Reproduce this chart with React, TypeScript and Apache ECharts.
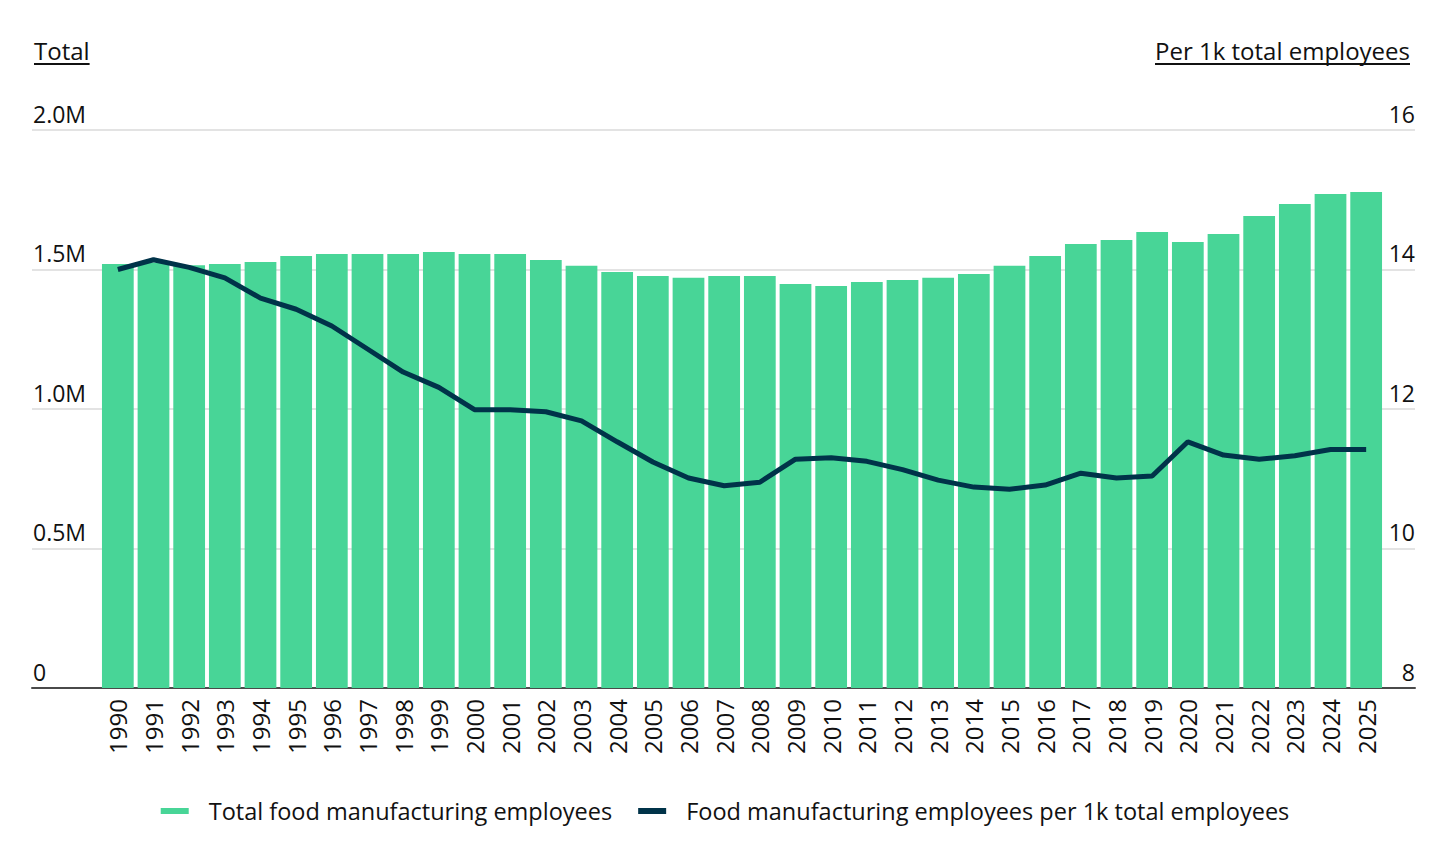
import React, { useEffect, useRef } from "react";
import * as echarts from "echarts";

const years = [
  "1990","1991","1992","1993","1994","1995","1996","1997","1998","1999",
  "2000","2001","2002","2003","2004","2005","2006","2007","2008","2009",
  "2010","2011","2012","2013","2014","2015","2016","2017","2018","2019",
  "2020","2021","2022","2023","2024","2025",
];

const totalEmployees = [
  1520000, 1525000, 1515000, 1520000, 1527000, 1548000, 1556000, 1556000, 1556000, 1563000,
  1556000, 1556000, 1534000, 1513000, 1491000, 1477000, 1470000, 1477000, 1477000, 1448000,
  1441000, 1455000, 1462000, 1470000, 1484000, 1513000, 1548000, 1591000, 1606000, 1634000,
  1599000, 1627000, 1692000, 1735000, 1771000, 1778000,
];

const perThousand = [
  14.0, 14.14, 14.03, 13.88, 13.59, 13.43, 13.19, 12.86, 12.53, 12.31,
  11.99, 11.99, 11.96, 11.83, 11.53, 11.24, 11.01, 10.9, 10.95, 11.28,
  11.3, 11.25, 11.13, 10.98, 10.88, 10.85, 10.91, 11.08, 11.01, 11.04,
  11.53, 11.34, 11.28, 11.33, 11.42, 11.42,
];

const leftTitle = "Total";
const rightTitle = "Per 1k total employees";
const barName = "Total food manufacturing employees";
const lineName = "Food manufacturing employees per 1k total employees";

const FONT = "'Open Sans', 'Noto Sans', sans-serif";
const GREEN = "#48D597";
const NAVY = "#003349";
const TEXT = "#111";

function measure(text: string, size: number): number {
  const c = document.createElement("canvas");
  const ctx = c.getContext("2d");
  if (!ctx) return text.length * size * 0.5;
  ctx.font = `${size}px ${FONT}`;
  return ctx.measureText(text).width;
}

function fmtTotal(v: number): string {
  if (v === 0) return "0";
  return (v / 1000000).toFixed(1) + "M";
}

export default function App() {
  const ref = useRef<HTMLDivElement>(null);

  useEffect(() => {
    if (!ref.current) return;
    const chart = echarts.init(ref.current, undefined, { renderer: "svg" });
    const titleSize = 24;
    const wLeft = measure(leftTitle, titleSize);
    const wRight = measure(rightTitle, titleSize);
    const leftX = 34;
    const rightX = 1410;
    const underlineY = 64;

    chart.setOption({
      animation: false,
      textStyle: { fontFamily: FONT },
      grid: [
        { left: 32, right: 35, top: 130, bottom: 162 },
        { left: 100, right: 66, top: 130, bottom: 162 },
      ],
      xAxis: [
        {
          type: "value",
          gridIndex: 0,
          min: 0,
          max: 1,
          axisLine: { show: true, onZero: false, lineStyle: { color: "#4a4a4a", width: 2 } },
          axisTick: { show: false },
          axisLabel: { show: false },
          splitLine: { show: false },
        },
        {
          type: "category",
          gridIndex: 1,
          data: years,
          axisLine: { show: false },
          axisTick: { show: false },
          axisLabel: {
            rotate: 90,
            fontSize: 24,
            color: TEXT,
            margin: 11,
            fontFamily: FONT,
            interval: 0,
          },
        },
      ],
      yAxis: [
        {
          type: "value",
          gridIndex: 0,
          position: "left",
          min: 0,
          max: 2000000,
          interval: 500000,
          axisLine: { show: false },
          axisTick: { show: false },
          splitLine: { show: true, lineStyle: { color: "#e3e3e3", width: 2 } },
          axisLabel: {
            inside: true,
            align: "left",
            verticalAlign: "bottom",
            margin: 1,
            padding: [0, 0, 5, 0],
            fontSize: 23,
            color: TEXT,
            fontFamily: FONT,
            formatter: (v: number) => fmtTotal(v),
          },
        },
        {
          type: "value",
          gridIndex: 0,
          position: "right",
          min: 8,
          max: 16,
          interval: 2,
          axisLine: { show: false },
          axisTick: { show: false },
          splitLine: { show: false },
          axisLabel: {
            inside: true,
            align: "right",
            verticalAlign: "bottom",
            margin: 0,
            padding: [0, 0, 5, 0],
            fontSize: 23,
            color: TEXT,
            fontFamily: FONT,
          },
        },
        {
          type: "value",
          gridIndex: 1,
          min: 0,
          max: 2000000,
          interval: 500000,
          show: false,
          splitLine: { show: false },
        },
        {
          type: "value",
          gridIndex: 1,
          min: 8,
          max: 16,
          interval: 2,
          show: false,
          splitLine: { show: false },
        },
      ],
      legend: {
        bottom: 22,
        left: "center",
        icon: "rect",
        itemWidth: 28,
        itemHeight: 6,
        itemGap: 26,
        textStyle: { fontSize: 23.5, color: TEXT, fontFamily: FONT, padding: [0, 0, 0, 15] },
        data: [
          { name: barName, itemStyle: { color: GREEN } },
          { name: lineName, itemStyle: { color: NAVY } },
        ],
      },
      graphic: [
        {
          type: "text",
          left: leftX,
          top: 38,
          style: { text: leftTitle, fontSize: titleSize, fill: TEXT, fontFamily: FONT },
        },
        {
          type: "line",
          shape: { x1: leftX, y1: underlineY, x2: leftX + wLeft, y2: underlineY },
          style: { stroke: TEXT, lineWidth: 2 },
        },
        {
          type: "text",
          right: 1450 - rightX,
          top: 38,
          style: { text: rightTitle, fontSize: titleSize, fill: TEXT, fontFamily: FONT },
        },
        {
          type: "line",
          shape: { x1: rightX - wRight, y1: underlineY, x2: rightX, y2: underlineY },
          style: { stroke: TEXT, lineWidth: 2 },
        },
      ],
      series: [
        {
          name: barName,
          type: "bar",
          xAxisIndex: 1,
          yAxisIndex: 2,
          data: totalEmployees,
          barCategoryGap: "11%",
          itemStyle: { color: GREEN },
          z: 2,
        },
        {
          name: lineName,
          type: "line",
          xAxisIndex: 1,
          yAxisIndex: 3,
          data: perThousand,
          symbol: "none",
          lineStyle: { color: NAVY, width: 5 },
          itemStyle: { color: NAVY },
          z: 3,
        },
      ],
    });
    return () => chart.dispose();
  }, []);

  return (
    <div
      ref={ref}
      style={{ position: "absolute", left: 0, top: 0, width: 1450, height: 850, background: "#fff" }}
    />
  );
}
